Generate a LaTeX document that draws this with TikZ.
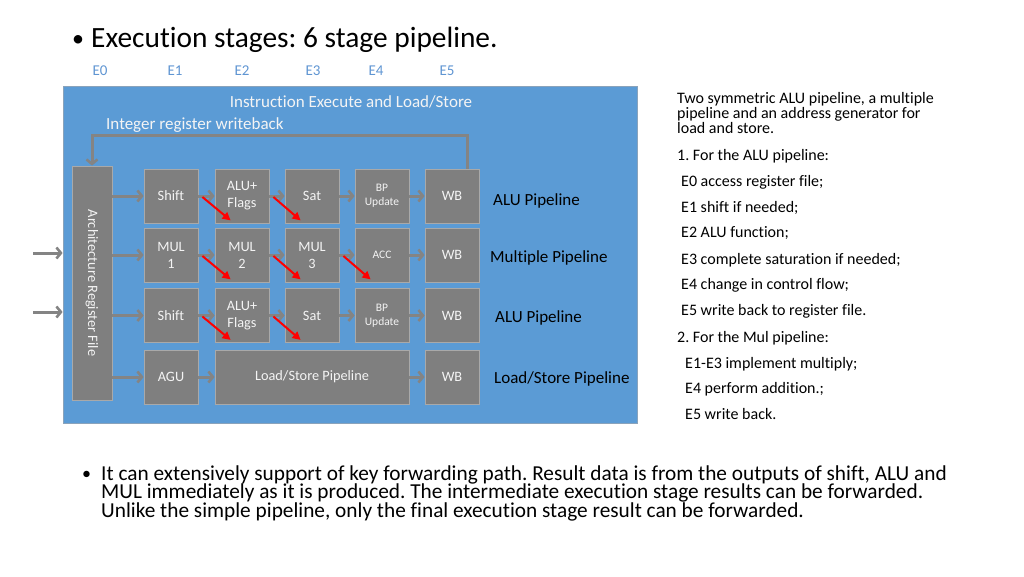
\documentclass[tikz,border=0pt]{standalone}
\usepackage{fontspec}
\setmainfont{Carlito}[Ligatures={NoCommon}]
\usetikzlibrary{arrows.meta,calc}
\frenchspacing
\definecolor{panelblue}{HTML}{5B9BD5}
\definecolor{boxgray}{HTML}{7F7F7F}
\definecolor{boxline}{HTML}{A9A9A9}
\definecolor{arrgray}{HTML}{848484}
\definecolor{stageblue}{HTML}{5F95D2}
\definecolor{txtwhite}{HTML}{F4F4F4}
\tikzset{
  fs/.style={font=\fontsize{#1}{#1}\selectfont},
  blk/.style={draw=boxline, line width=0.8pt, fill=boxgray, minimum width=54pt, minimum height=54pt,
     inner sep=0pt, text=txtwhite, align=center, font=\fontsize{14.3}{17}\selectfont},
  small/.style={font=\fontsize{11.5}{14}\selectfont},
  garrow/.style={draw=arrgray, line width=3pt, -{Straight Barb[length=4.5pt,width=11pt,line width=2.6pt]}},
  rarrow/.style={draw=red, line width=2pt, -{Triangle[length=8pt,width=8pt]}},
  ltxt/.style={anchor=base west, inner sep=0pt},
}
\begin{document}
\begin{tikzpicture}[x=1pt,y=-1pt]
\useasboundingbox (0,0) rectangle (1024,576);
% title
\node[ltxt, fs=24] (bul1) at (72,46) {•};
\node[ltxt, fs=29.4] (title) at (91,47) {Execution stages: 6 stage pipeline.};
\foreach \n/\x in {0/100,1/175,2/242,3/313,4/376,5/447}
  \node[anchor=base, inner sep=0pt, fs=15, text=stageblue] (E\n) at (\x,75) {E\n};
% panel
\node[draw=boxline!60!panelblue, line width=0.8pt, fill=panelblue, minimum width=574pt, minimum height=337pt, inner sep=0pt] (panel) at (350,254.5) {};
\node[anchor=base, inner sep=0pt, fs=17, text=txtwhite] (hdr) at (351,107) {Instruction Execute and Load/Store};
\node[ltxt, fs=17, text=txtwhite] (iwb) at (106,129) {Integer register writeback};
% architecture register file
\node[blk, minimum width=40pt, minimum height=234pt] (arch) at (92,283) {};
\node[rotate=-90, text=txtwhite, fs=14.4, inner sep=0pt] (archt) at (arch.center) {Architecture Register File};
% row 1
\node[blk] (a1) at (171,196) {Shift};
\node[blk] (a2) at (242,196) {ALU+\\Flags};
\node[blk] (a3) at (312,196) {Sat};
\node[blk, small] (a4) at (382,196) {BP\\Update};
\node[blk] (a5) at (452,196) {WB};
% row 2
\node[blk] (m1) at (171,255) {MUL\\1};
\node[blk] (m2) at (242,255) {MUL\\2};
\node[blk] (m3) at (312,255) {MUL\\3};
\node[blk, small] (m4) at (382,255) {ACC};
\node[blk] (m5) at (452,255) {WB};
% row 3
\node[blk] (b1) at (171,315.5) {Shift};
\node[blk] (b2) at (242,315.5) {ALU+\\Flags};
\node[blk] (b3) at (312,315.5) {Sat};
\node[blk, small] (b4) at (382,315.5) {BP\\Update};
\node[blk] (b5) at (452,315.5) {WB};
% row 4
\node[blk] (l1) at (171,377) {AGU};
\node[blk, minimum width=194pt] (l2) at (312,377) {Load/Store Pipeline};
\node[blk] (l5) at (452,377) {WB};
% pipeline labels
\node[ltxt, fs=17] (p1) at (493,205) {ALU Pipeline};
\node[ltxt, fs=17] (p2) at (490,262) {Multiple Pipeline};
\node[ltxt, fs=17] (p3) at (495,322) {ALU Pipeline};
\node[ltxt, fs=17] (p4) at (494,383) {Load/Store Pipeline};
% gray arrows
\foreach \r in {a1,m1,b1,l1}
  \draw[garrow] (arch.east |- \r) -- (\r.west);
\foreach \s/\t in {a1/a2,a2/a3,a3/a4,a4/a5,m1/m2,m2/m3,m3/m4,m4/m5,b1/b2,b2/b3,b3/b4,b4/b5,l1/l2,l2/l5}
  \draw[garrow] (\s.east) -- (\t.west);
% writeback loop
\coordinate (wbtop) at (467,135);
\draw[garrow] (a5.north -| wbtop) -- (wbtop) -| (arch.north);
% external inputs
\coordinate (ext1) at (33,253);
\coordinate (ext2) at (33,312);
\draw[garrow] (ext1) -- (ext1 -| panel.west);
\draw[garrow] (ext2) -- (ext2 -| panel.west);
% red forwarding arrows
\foreach \s/\t in {a1/a2,a2/a3,m1/m2,m2/m3,m3/m4,b1/b2,b2/b3}
  \draw[rarrow] ($(\s.east)+(4,1)$) -- ($(\t.south west)+(16,-3)$);
% right text
\node[anchor=north west, inner sep=0pt, align=left, font=\fontsize{16}{15}\selectfont] (desc) at (677,92)
  {Two symmetric ALU pipeline, a multiple\\pipeline and an address generator for\\load and store.};
\node[ltxt, fs=16] (r1) at (677,160) {1. For the ALU pipeline:};
\node[ltxt, fs=16] (r2) at (681,186) {E0 access register file;};
\node[ltxt, fs=16] (r3) at (681,212) {E1 shift if needed;};
\node[ltxt, fs=16] (r4) at (681,237) {E2 ALU function;};
\node[ltxt, fs=16] (r5) at (681,264) {E3 complete saturation if needed;};
\node[ltxt, fs=16] (r6) at (681,289) {E4 change in control flow;};
\node[ltxt, fs=16] (r7) at (681,315) {E5 write back to register file.};
\node[ltxt, fs=16] (r8) at (677,342) {2. For the Mul pipeline:};
\node[ltxt, fs=16] (r9) at (685,368) {E1-E3 implement multiply;};
\node[ltxt, fs=16] (r10) at (685,393) {E4 perform addition.;};
\node[ltxt, fs=16] (r11) at (685,419) {E5 write back.};
% bottom bullet
\node[ltxt, fs=18] (bul2) at (82,479) {•};
\node[ltxt, fs=21.3] (bt1) at (101,480) {It can extensively support of key forwarding path. Result data is from the outputs of shift, ALU and};
\node[ltxt, fs=21.3] (bt2) at (101,498.5) {MUL immediately as it is produced. The intermediate execution stage results can be forwarded.};
\node[ltxt, fs=21.3] (bt3) at (101,517) {Unlike the simple pipeline, only the final execution stage result can be forwarded.};
\end{tikzpicture}
\end{document}
